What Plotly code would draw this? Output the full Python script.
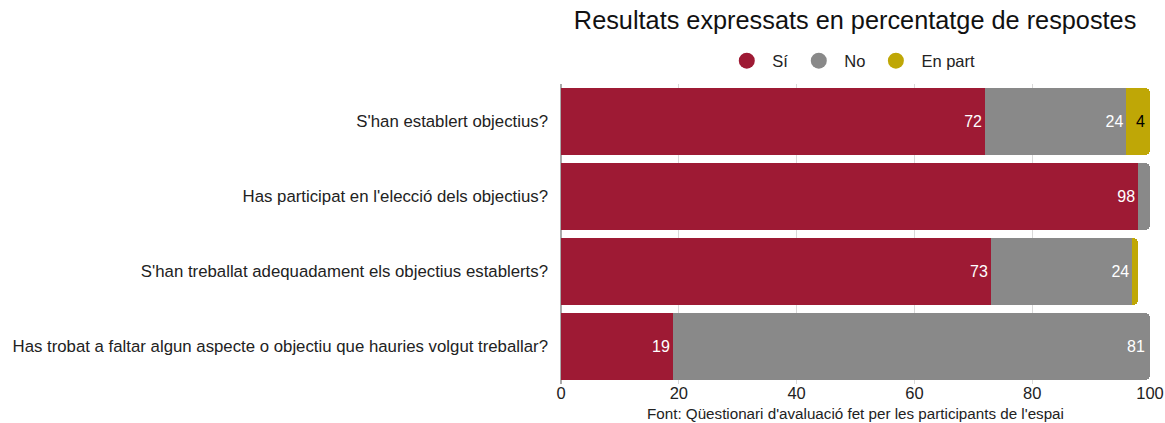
import plotly.graph_objects as go

categories = [
    "S'han establert objectius?",
    "Has participat en l'elecció dels objectius?",
    "S'han treballat adequadament els objectius establerts?",
    "Has trobat a faltar algun aspecte o objectiu que hauries volgut treballar?",
]
si = [72, 98, 73, 19]
no = [24, 2, 24, 81]
en_part = [4, 0, 1, 0]

series = [("Sí", si, "#9E1A34", "white"), ("No", no, "#898989", "white"), ("En part", en_part, "#BFA706", "black")]

FONT = "Liberation Sans, Arial, sans-serif"
fig = go.Figure()
for name, vals, color, tcolor in series:
    fig.add_trace(go.Bar(
        y=categories, x=vals, orientation="h", name=name,
        marker=dict(color=color, line=dict(width=0)),
        text=[str(v) if v >= 3 else "" for v in vals],
        textposition="inside", insidetextanchor="end",
        textfont=dict(color=tcolor, size=16, family=FONT),
        showlegend=False, hoverinfo="x+name",
    ))
    fig.add_trace(go.Scatter(
        x=[None], y=[None], mode="markers", name=name,
        marker=dict(color=color, size=16, symbol="circle"),
        showlegend=True,
    ))

fig.update_layout(
    width=1165, height=423,
    barmode="stack", bargap=0.107, barcornerradius=5,
    plot_bgcolor="white", paper_bgcolor="white",
    margin=dict(l=561, r=15, t=84, b=39, autoexpand=False),
    font=dict(family=FONT, size=16, color="#222"),
    title=dict(text="Resultats expressats en percentatge de respostes", x=0.734, xanchor="center",
               y=0.953, yanchor="middle", font=dict(size=25.3, color="#111")),
    legend=dict(orientation="h", x=0.492, xanchor="center", y=1.077, yanchor="middle",
                font=dict(size=16.5), itemwidth=41, traceorder="normal"),
    xaxis=dict(range=[0, 100], tickvals=[0, 20, 40, 60, 80, 100], showgrid=True,
               gridcolor="#d9d9d9", zeroline=True, zerolinecolor="#aaaaaa", showline=False,
               tickfont=dict(size=16.5, color="#222"), fixedrange=True, automargin=False,
               ticklabelstandoff=-3),
    yaxis=dict(autorange="reversed", showgrid=False, ticks="", ticklen=0, ticklabelstandoff=12,
               tickfont=dict(size=16.8, color="#222"), automargin=False, fixedrange=True),
    annotations=[dict(text="Font: Qüestionari d'avaluació fet per les participants de l'espai",
                      xref="paper", yref="paper", x=0.5, y=-0.099, xanchor="center", yanchor="middle",
                      showarrow=False, font=dict(size=15.2, color="#222"))],
)
fig.write_html("out.html", config={"displayModeBar": False},
               post_script="document.body.style.margin='0px';document.body.style.overflow='hidden';")
